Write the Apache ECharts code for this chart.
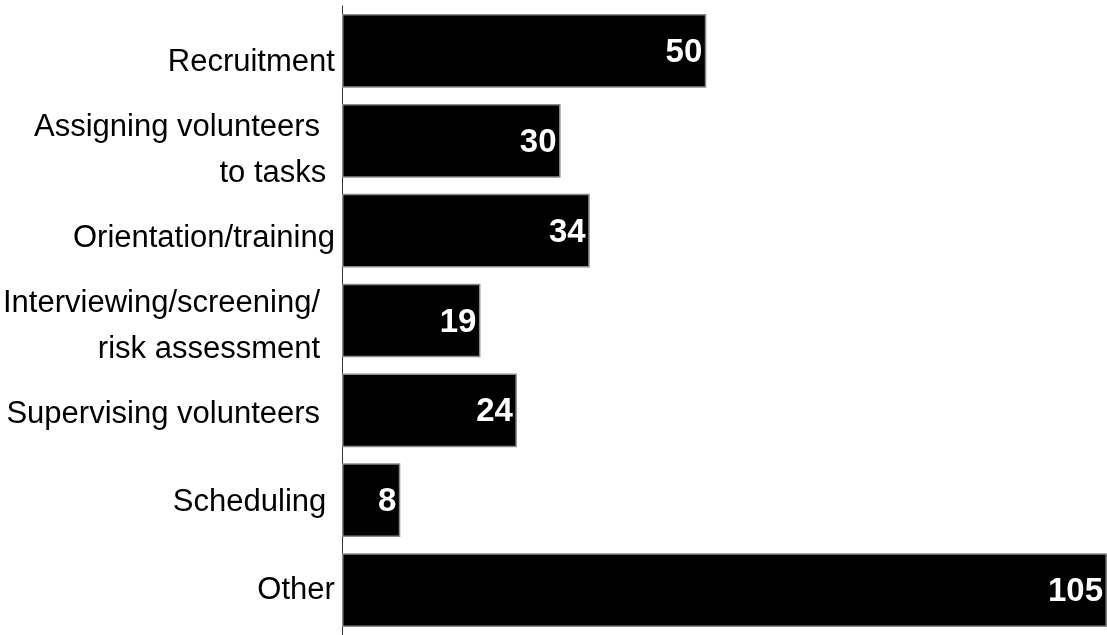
<!DOCTYPE html>
<html>
<head>
<meta charset="utf-8">
<script src="https://cdn.jsdelivr.net/npm/echarts@6/dist/echarts.min.js"></script>
<style>html,body{margin:0;padding:0;background:#fff;}#c{width:1107px;height:635px;}</style>
</head>
<body>
<div id="c"></div>
<script>
const categories = [
  "Recruitment",
  "Assigning volunteers \u2009\nto tasks ",
  "Orientation/training",
  "Interviewing/screening/ \u2009\nrisk assessment \u2009",
  "Supervising volunteers \u2009",
  "Scheduling ",
  "Other"
];
const values = [50, 30, 34, 19, 24, 8, 105];

const chart = echarts.init(document.getElementById('c'));
chart.setOption({
  animation: false,
  backgroundColor: '#ffffff',
  grid: [
    { left: 342, right: 0, top: 6, height: 633, containLabel: false },
    { left: 342, right: 0, top: 18, height: 624, containLabel: false }
  ],
  xAxis: [
    { gridIndex: 0, type: 'value', min: 0, max: 105, show: false },
    { gridIndex: 1, type: 'value', min: 0, max: 105, show: false }
  ],
  yAxis: [
    {
      gridIndex: 0, type: 'category', data: categories, inverse: true,
      axisLine: { show: true, lineStyle: { color: '#333', width: 1 } },
      axisTick: { show: false },
      axisLabel: { show: false }
    },
    {
      gridIndex: 1, type: 'category', data: categories, inverse: true,
      axisLine: { show: false },
      axisTick: { show: false },
      axisLabel: {
        margin: 9, color: '#000', fontSize: 31, lineHeight: 46,
        fontFamily: '"Liberation Sans", Arial, sans-serif',
        align: 'right'
      }
    }
  ],
  series: [{
    type: 'bar', xAxisIndex: 0, yAxisIndex: 0, data: values, barCategoryGap: '18%',
    itemStyle: { color: '#000', borderColor: '#8a8a8a', borderWidth: 1.5 },
    label: {
      show: true, position: 'insideRight', distance: 4, offset: [0, 2],
      color: '#fff', fontWeight: 'bold', fontSize: 33,
      fontFamily: '"Liberation Sans", Arial, sans-serif'
    }
  }]
});
</script>
</body>
</html>
